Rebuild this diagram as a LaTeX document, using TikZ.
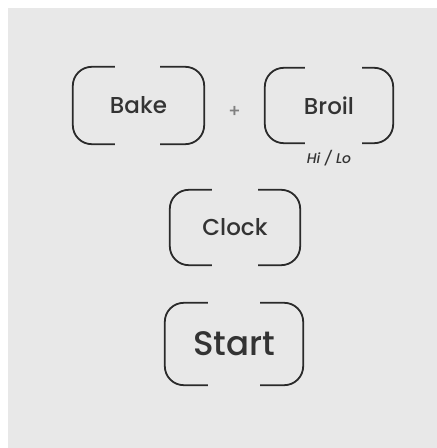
\documentclass[tikz,border=0pt]{standalone}
\usepackage{fontspec}
\usetikzlibrary{positioning,calc}
\setmainfont{Poppins}[UprightFont={* Medium}, ItalicFont={* Medium Italic}]
\definecolor{panel}{HTML}{E8E8E8}
\definecolor{keyline}{HTML}{2A2A2A}
\definecolor{keytext}{HTML}{333333}
\tikzset{
    keybox/.style={minimum width=#1, text=keytext, inner sep=0pt},
    keyframe/.style={line width=1.8pt, draw=keyline, rounded corners=19pt}
}
\newcommand{\keybrackets}[3]{%
    \draw[keyframe] ([xshift=#2]#1.north west) -| (#1.south west) -- ++(#2,0);
    \draw[keyframe] ([xshift=-#3]#1.north east) -| (#1.south east) -- ++(-#3,0);
}
\begin{document}
\begin{tikzpicture}[x=1pt,y=1pt]

    \fill[white] (0,0) rectangle (437,448);
    \fill[panel] (8,0) rectangle (437,440);

    \node[keybox=131pt, minimum height=77pt,
        font=\fontsize{23}{23}\selectfont
    ] (bake) at (138.5,342.5) {Bake};
    \node[keybox=128pt, minimum height=75pt,
        font=\fontsize{23}{23}\selectfont
    ] (broil) at (329,342.5) {Broil};
    \node[keybox=130pt, minimum height=75pt,
        font=\fontsize{23}{23}\selectfont
    ] (clock) at (235,220.5) {Clock};
    \node[keybox=138pt, minimum height=82pt,
        font=\fontsize{34}{34}\selectfont
    ] (start) at (234,104) {Start};

    \keybrackets{bake}{42pt}{44pt}
    \keybrackets{broil}{40pt}{31pt}
    \keybrackets{clock}{42pt}{42pt}
    \keybrackets{start}{43pt}{43pt}

    \node[text=gray, font=\fontsize{18}{18}\selectfont] (plus)
        at ($(bake.east)!0.5!(broil.west)+(0,-6)$) {+};
    \node[text=keytext, font=\itshape\fontsize{14}{14}\selectfont,
        below=4pt of broil.south] (hilo) {Hi / Lo};

\end{tikzpicture}
\end{document}
